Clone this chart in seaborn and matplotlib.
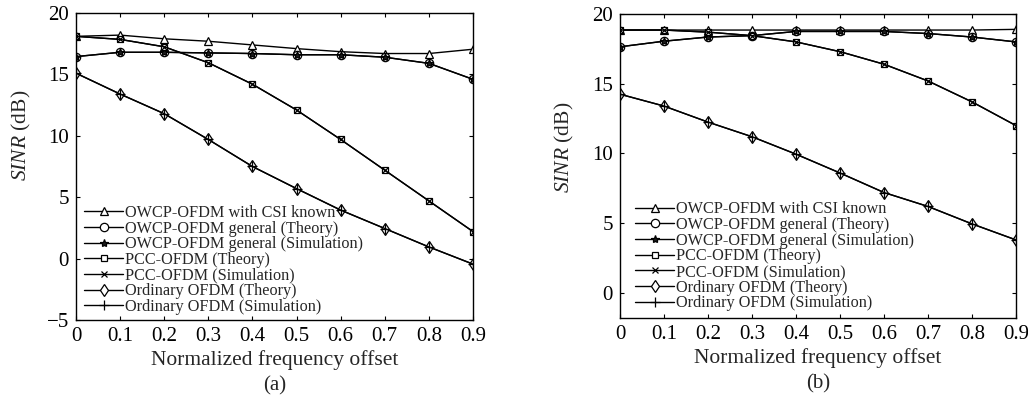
import numpy as np
import pandas as pd
import matplotlib
matplotlib.use("Agg")
import matplotlib.pyplot as plt
import seaborn as sns

# normalized frequency offset
offset = [0, 0.1, 0.2, 0.3, 0.4, 0.5, 0.6, 0.7, 0.8, 0.9]

# ─── panel (a) ──────────────────────────────────────────────────────────────
a_csi      = [18.1, 18.2, 17.9, 17.7, 17.4, 17.1, 16.85, 16.7, 16.7, 17.05]
a_owcp_th  = [16.45, 16.8, 16.8, 16.75, 16.7, 16.6, 16.6, 16.4, 15.9, 14.6]
a_owcp_sim = [16.45, 16.8, 16.8, 16.75, 16.7, 16.6, 16.6, 16.4, 15.9, 14.6]
a_pcc_th   = [18.1, 17.85, 17.25, 15.95, 14.2, 12.1, 9.7, 7.2, 4.7, 2.2]
a_pcc_sim  = [18.1, 17.85, 17.25, 15.95, 14.2, 12.1, 9.7, 7.2, 4.7, 2.2]
a_ord_th   = [15.1, 13.4, 11.8, 9.7, 7.5, 5.7, 3.95, 2.45, 0.95, -0.45]
a_ord_sim  = [15.1, 13.4, 11.8, 9.7, 7.5, 5.7, 3.95, 2.45, 0.95, -0.45]

# ─── panel (b) ──────────────────────────────────────────────────────────────
b_csi      = [18.85, 18.85, 18.85, 18.85, 18.85, 18.85, 18.85, 18.85, 18.85, 18.9]
b_owcp_th  = [17.65, 18.05, 18.35, 18.45, 18.75, 18.75, 18.75, 18.6, 18.35, 18.0]
b_owcp_sim = [17.65, 18.05, 18.35, 18.45, 18.75, 18.75, 18.75, 18.6, 18.35, 18.0]
b_pcc_th   = [18.85, 18.85, 18.7, 18.45, 18.0, 17.3, 16.4, 15.2, 13.7, 12.0]
b_pcc_sim  = [18.85, 18.85, 18.7, 18.45, 18.0, 17.3, 16.4, 15.2, 13.7, 12.0]
b_ord_th   = [14.25, 13.4, 12.25, 11.2, 9.95, 8.6, 7.2, 6.2, 4.95, 3.8]
b_ord_sim  = [14.25, 13.4, 12.25, 11.2, 9.95, 8.6, 7.2, 6.2, 4.95, 3.8]

labels = ["OWCP-OFDM with CSI known",
          "OWCP-OFDM general (Theory)",
          "OWCP-OFDM general (Simulation)",
          "PCC-OFDM (Theory)",
          "PCC-OFDM (Simulation)",
          "Ordinary OFDM (Theory)",
          "Ordinary OFDM (Simulation)"]

styles = [dict(marker="^", mfc="white", ms=6),
          dict(marker="o", mfc="white", ms=6),
          dict(marker="*", mfc="k", ms=6),
          dict(marker="s", mfc="white", ms=5),
          dict(marker="x", mfc="k", ms=5),
          dict(marker="d", mfc="white", ms=6),
          dict(marker="+", mfc="k", ms=7)]

sns.set_theme(style="ticks")
plt.rcParams.update({
    "font.family": ["Liberation Serif", "DejaVu Serif"],
    "mathtext.fontset": "custom",
    "mathtext.it": "Liberation Serif:italic",
    "mathtext.rm": "Liberation Serif",
    "xtick.direction": "in", "ytick.direction": "in",
    "xtick.top": True, "ytick.right": True,
    "axes.edgecolor": "black", "axes.linewidth": 1.0,
    "xtick.color": "black", "ytick.color": "black",
})

fig = plt.figure(figsize=(10.28, 4.05), dpi=100)
ax_a = fig.add_axes([0.0739, 0.2099, 0.3862, 0.758])
ax_b = fig.add_axes([0.6031, 0.2148, 0.3852, 0.7506])

panels = [
    (ax_a, [a_csi, a_owcp_th, a_owcp_sim, a_pcc_th, a_pcc_sim, a_ord_th, a_ord_sim],
     (-5, 20), [-5, 0, 5, 10, 15, 20], "(a)", (0.0, -0.01), (-0.108, 0.6)),
    (ax_b, [b_csi, b_owcp_th, b_owcp_sim, b_pcc_th, b_pcc_sim, b_ord_th, b_ord_sim],
     (-1.8, 20), [0, 5, 10, 15, 20], "(b)", (0.018, -0.005), (-0.112, 0.56)),
]

for ax, series, ylim, yticks, cap, anchor, lab_xy in panels:
    for vals, lab, st in zip(series, labels, styles):
        sns.lineplot(x=offset, y=vals, ax=ax, color="black", lw=1.0,
                     mec="black", mew=0.9, label=lab, **st)
    ax.set_xlim(0, 0.9)
    ax.set_ylim(*ylim)
    ax.set_xticks(offset)
    ax.set_xticklabels([f"{v:g}" for v in offset])
    ax.set_yticks(yticks)
    ax.tick_params(labelsize=15, length=3, width=0.8, pad=5)
    ax.set_xlabel("Normalized frequency offset", fontsize=15.5, labelpad=3)
    ax.set_ylabel(r"$\mathit{SINR}$ (dB)", fontsize=15.5)
    ax.yaxis.set_label_coords(*lab_xy)
    ax.legend(loc="lower left", bbox_to_anchor=anchor, frameon=False,
              fontsize=11.7, handlelength=2.4, handletextpad=0.1,
              labelspacing=-0.02, borderaxespad=0.1)
    ax.text(0.5, -0.215, cap, transform=ax.transAxes, ha="center",
            va="center", fontsize=15)

fig.savefig("out.png", dpi=100)
